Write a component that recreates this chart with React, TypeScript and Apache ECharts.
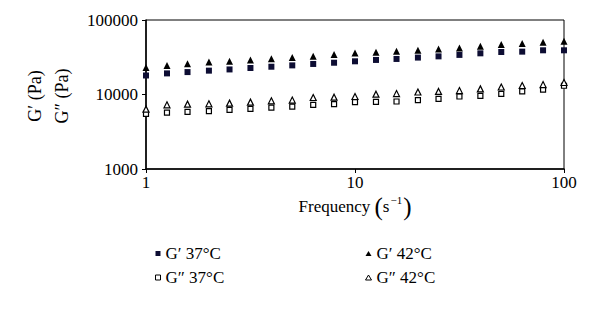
import React, { useEffect, useRef } from "react";
import * as echarts from "echarts";

// Frequency (s^-1), 10 points per decade
const frequency = [1, 1.26, 1.58, 2, 2.51, 3.16, 3.98, 5.01, 6.31, 7.94, 10, 12.6, 15.8, 20, 25.1, 31.6, 39.8, 50.1, 63.1, 79.4, 100];

// G' 37°C (filled squares)
const gPrime37 = [18000, 19200, 20000, 20900, 21700, 22700, 23600, 24600, 25700, 26700, 27900, 29100, 30000, 31300, 32500, 34000, 35700, 37200, 37600, 39200, 39200];
// G'' 37°C (open squares)
const gDouble37 = [5500, 5720, 5840, 5970, 6220, 6410, 6680, 6890, 7270, 7430, 7900, 7950, 8050, 8410, 8750, 9400, 9600, 10200, 11000, 11600, 13100];
// G' 42°C (filled triangles)
const gPrime42 = [23100, 24600, 25900, 27300, 27900, 29100, 30300, 31500, 32500, 34300, 36100, 36800, 38000, 39200, 40900, 42200, 44400, 46800, 48200, 50200, 51800];
// G'' 42°C (open triangles)
const gDouble42 = [6360, 7270, 7430, 7500, 7660, 7900, 8230, 8410, 9120, 9200, 9400, 10100, 10300, 10800, 11000, 11300, 11900, 12600, 13200, 13600, 14500];

const seriesNames = ["G\u2032 37\u00B0C", "G\u2033 37\u00B0C", "G\u2032 42\u00B0C", "G\u2033 42\u00B0C"];
const yTickLabels = ["1000", "10000", "100000"];
const xTickLabels = ["1", "10", "100"];

export default function App() {
  const ref = useRef<HTMLDivElement>(null);
  useEffect(() => {
    const chart = echarts.init(ref.current!, null, { renderer: "svg" });
    const font = "'Liberation Serif', 'Times New Roman', serif";
    const pair = (ys: number[]) => frequency.map((f, i) => [f, ys[i]]);
    const legendText = { fontFamily: font, fontSize: 17, color: "#000" };
    const hollowLegend = { color: "#fff", borderColor: "#000", borderWidth: 1 };
    chart.setOption({
      animation: false,
      backgroundColor: "#fff",
      grid: {
        left: 146,
        right: 36,
        top: 20,
        bottom: 140,
        show: true,
        borderColor: "#000",
        borderWidth: 1,
        backgroundColor: "transparent",
      },
      xAxis: {
        type: "log",
        logBase: 10,
        min: 1,
        max: 100,
        axisLine: { lineStyle: { color: "#000", width: 1.5 } },
        axisTick: { show: true, inside: false, length: 4, lineStyle: { color: "#000" } },
        minorTick: { show: false },
        splitLine: { show: false },
        axisLabel: {
          color: "#000",
          fontFamily: font,
          fontSize: 17,
          margin: 5,
          formatter: (v: number) => {
            const idx = Math.round(Math.log10(v));
            return xTickLabels[idx] ?? String(Math.round(v));
          },
        },
        name: "{a|Frequency }{p|(}{a|s}{sup|\u22121}{p|)}",
        nameLocation: "middle",
        nameGap: 25,
        nameTextStyle: {
          rich: {
            a: { fontFamily: font, fontSize: 17, color: "#000" },
            p: { fontFamily: font, fontSize: 25, color: "#000" },
            sup: { fontFamily: font, fontSize: 11, color: "#000", verticalAlign: "top", padding: [0, 1, 10, 1] },
          },
        },
      },
      yAxis: {
        type: "log",
        logBase: 10,
        min: 1000,
        max: 100000,
        axisLine: { lineStyle: { color: "#000", width: 1.5 } },
        axisTick: { show: true, inside: false, length: 4, lineStyle: { color: "#000" } },
        minorTick: { show: false },
        splitLine: { show: false },
        axisLabel: {
          color: "#000",
          fontFamily: font,
          fontSize: 17,
          margin: 8,
          formatter: (v: number) => {
            const idx = Math.round(Math.log10(v)) - 3;
            return yTickLabels[idx] ?? String(Math.round(v));
          },
        },
      },
      legend: [
        {
          data: [
            { name: seriesNames[0] },
            { name: seriesNames[1], itemStyle: hollowLegend },
          ],
          orient: "vertical",
          left: 150,
          top: 240,
          itemWidth: 5,
          itemHeight: 5,
          itemGap: 7,
          textStyle: legendText,
        },
        {
          data: [
            { name: seriesNames[2] },
            { name: seriesNames[3], itemStyle: hollowLegend },
          ],
          orient: "vertical",
          left: 360,
          top: 240,
          itemWidth: 6,
          itemHeight: 5,
          itemGap: 7,
          textStyle: legendText,
        },
      ],
      graphic: [
        {
          type: "text",
          x: 35,
          y: 96,
          rotation: Math.PI / 2,
          style: {
            text: "G\u2032 (Pa)",
            font: `18px ${font}`,
            fill: "#000",
            textAlign: "center",
            textVerticalAlign: "middle",
          },
        },
        {
          type: "text",
          x: 62,
          y: 96,
          rotation: Math.PI / 2,
          style: {
            text: "G\u2033 (Pa)",
            font: `18px ${font}`,
            fill: "#000",
            textAlign: "center",
            textVerticalAlign: "middle",
          },
        },
      ],
      series: [
        {
          name: seriesNames[0],
          type: "scatter",
          symbol: "rect",
          symbolSize: 6,
          itemStyle: { color: "#0d0d33", opacity: 1 },
          data: pair(gPrime37),
        },
        {
          name: seriesNames[1],
          type: "scatter",
          symbol: "rect",
          symbolSize: 5,
          itemStyle: { color: "#fff", borderColor: "#000", borderWidth: 1.2, opacity: 1 },
          data: pair(gDouble37),
        },
        {
          name: seriesNames[2],
          type: "scatter",
          symbol: "triangle",
          symbolSize: 7,
          itemStyle: { color: "#000", opacity: 1 },
          data: pair(gPrime42),
        },
        {
          name: seriesNames[3],
          type: "scatter",
          symbol: "triangle",
          symbolSize: 6,
          itemStyle: { color: "#fff", borderColor: "#000", borderWidth: 1.2, opacity: 1 },
          data: pair(gDouble42),
        },
      ],
    });
    return () => chart.dispose();
  }, []);
  return <div ref={ref} style={{ position: "fixed", left: 0, top: 0, width: 600, height: 309 }} />;
}
